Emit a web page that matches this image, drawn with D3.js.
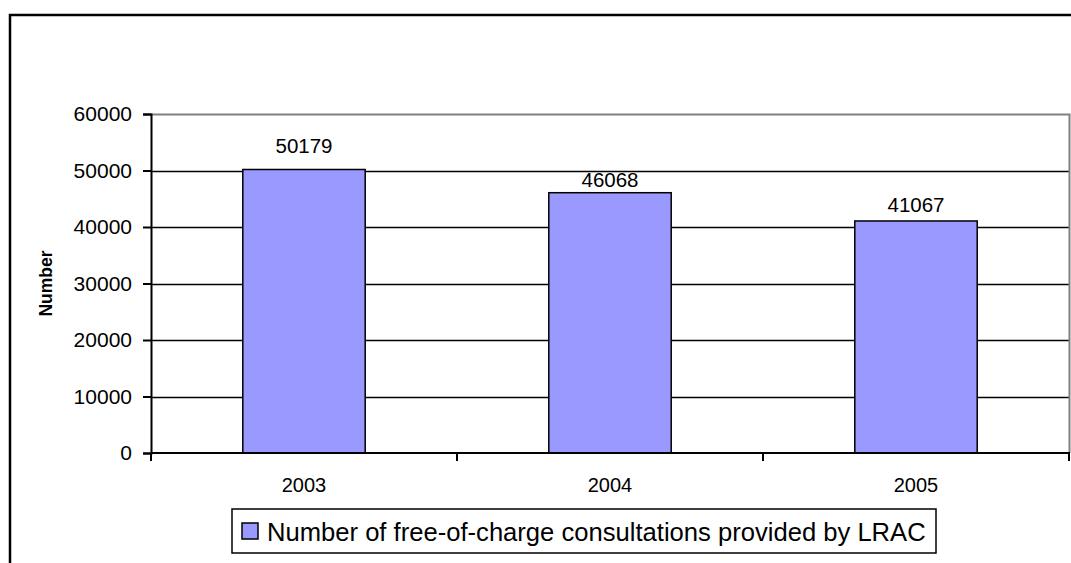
<!DOCTYPE html>
<html>
<head>
<meta charset="utf-8">
<script src="https://cdn.jsdelivr.net/npm/d3@7"></script>
<style>
  html, body { margin: 0; padding: 0; background: #fff; }
  svg { display: block; font-family: "Liberation Sans", Arial, sans-serif; }
</style>
</head>
<body>
<svg id="chart" width="1071" height="563"></svg>
<script>
// ---- data ----
const categories = ["2003", "2004", "2005"];
const values = [50179, 46068, 41067];
const yTicks = [0, 10000, 20000, 30000, 40000, 50000, 60000];
const seriesName = "Number of free-of-charge consultations provided by LRAC";
const yTitle = "Number";
// label gap above each bar (layout)
const labelGaps = [16, 6, 9];

// ---- layout ----
const W = 1071, H = 563;
const plot = { left: 151, right: 1069, top: 114, bottom: 453 };
const barColor = "#9999FF";

const svg = d3.select("#chart");

// outer chart border (extends past right/bottom edges)
svg.append("rect")
  .attr("x", 10).attr("y", 15)
  .attr("width", W + 20).attr("height", H + 20)
  .attr("fill", "#fff").attr("stroke", "#000").attr("stroke-width", 2.5);

const x = d3.scaleBand().domain(categories).range([plot.left, plot.right]).padding(0);
const y = d3.scaleLinear().domain([0, 60000]).range([plot.bottom, plot.top]);

// gridlines
svg.append("g").selectAll("line")
  .data(yTicks.filter(t => t > 0 && t < 60000))
  .join("line")
  .attr("x1", plot.left).attr("x2", plot.right)
  .attr("y1", d => Math.round(y(d)) + 0.5).attr("y2", d => Math.round(y(d)) + 0.5)
  .attr("stroke", "#000").attr("stroke-width", 1.5);

// plot area border (grey) top and right
svg.append("path")
  .attr("d", `M${plot.left},${plot.top + 0.5}H${plot.right + 0.5}V${plot.bottom}`)
  .attr("fill", "none").attr("stroke", "#808080").attr("stroke-width", 2);

// bars
const bw = x.bandwidth() * 0.4;
svg.append("g").selectAll("rect")
  .data(values)
  .join("rect")
  .attr("x", (d, i) => x(categories[i]) + (x.bandwidth() - bw) / 2)
  .attr("y", d => y(d))
  .attr("width", bw)
  .attr("height", d => y(0) - y(d))
  .attr("fill", barColor)
  .attr("stroke", "#000").attr("stroke-width", 1.5);

// data labels
svg.append("g").selectAll("text")
  .data(values)
  .join("text")
  .attr("x", (d, i) => x(categories[i]) + x.bandwidth() / 2)
  .attr("y", (d, i) => y(d) - labelGaps[i])
  .attr("text-anchor", "middle")
  .attr("font-size", 20.5)
  .attr("fill", "#000")
  .text(d => d);

// y axis
const yAxis = d3.axisLeft(y).tickValues(yTicks).tickSize(8).tickPadding(11).tickFormat(d => d);
const gy = svg.append("g").attr("transform", `translate(${plot.left},0)`).call(yAxis);
gy.select(".domain").attr("stroke", "#000").attr("stroke-width", 2);
gy.selectAll(".tick line").attr("stroke", "#000").attr("stroke-width", 2);
gy.selectAll(".tick text").attr("font-size", 21).attr("font-family", "Liberation Sans, Arial, sans-serif").attr("fill", "#000");

// x axis
const gx = svg.append("g").attr("transform", `translate(0,${plot.bottom})`);
gx.append("line")
  .attr("x1", plot.left).attr("x2", plot.right + 1)
  .attr("y1", 0).attr("y2", 0)
  .attr("stroke", "#000").attr("stroke-width", 2);
const bounds = categories.map(c => x(c)).concat([plot.right]);
gx.selectAll("line.tick")
  .data(bounds)
  .join("line").attr("class", "tick")
  .attr("x1", d => d).attr("x2", d => d)
  .attr("y1", 0).attr("y2", 8)
  .attr("stroke", "#000").attr("stroke-width", 2);
gx.selectAll("text")
  .data(categories)
  .join("text")
  .attr("x", d => x(d) + x.bandwidth() / 2)
  .attr("y", 39)
  .attr("text-anchor", "middle")
  .attr("font-size", 20)
  .attr("fill", "#000")
  .text(d => d);

// y title
svg.append("text")
  .attr("transform", `translate(52,${(plot.top + plot.bottom) / 2}) rotate(-90)`)
  .attr("text-anchor", "middle")
  .attr("font-size", 17.5)
  .attr("font-weight", "bold")
  .attr("fill", "#000")
  .text(yTitle);

// legend
const lg = svg.append("g");
lg.append("rect")
  .attr("x", 232).attr("y", 509).attr("width", 704).attr("height", 44)
  .attr("fill", "#fff").attr("stroke", "#000").attr("stroke-width", 1.5);
lg.append("rect")
  .attr("x", 242).attr("y", 523).attr("width", 16).attr("height", 16)
  .attr("fill", barColor).attr("stroke", "#000").attr("stroke-width", 1.5);
lg.append("text")
  .attr("x", 267).attr("y", 541)
  .attr("font-size", 25.6)
  .attr("fill", "#000")
  .text(seriesName);
</script>
</body>
</html>
